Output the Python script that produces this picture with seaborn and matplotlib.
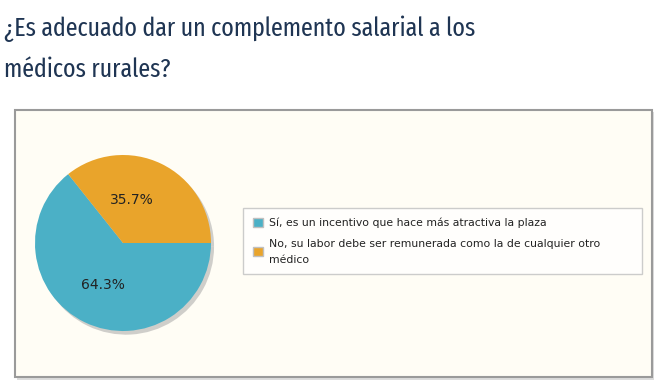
import matplotlib
matplotlib.use("Agg")
from matplotlib import pyplot as plt
from matplotlib.patches import Rectangle
import seaborn as sns

# Data
title_lines = ["¿Es adecuado dar un complemento salarial a los", "médicos rurales?"]
labels = ["Sí, es un incentivo que hace más atractiva la plaza",
          "No, su labor debe ser remunerada como la de cualquier otro\nmédico"]
shares = [64.3, 35.7]
slice_colors = ["#4bb0c6", "#e9a42b"]

sns.set_theme(style="white")
plt.rcParams["font.family"] = ["DejaVu Sans"]

W, H = 659, 382
fig = plt.figure(figsize=(W / 100, H / 100), dpi=100)
fig.patch.set_facecolor("white")

# Title, sized so that the first line spans the same width as the reference
title_font = ["Fira Sans Extra Condensed", "DejaVu Sans"]
t1 = fig.text(4 / W, 1 - 36 / H, title_lines[0], ha="left", va="baseline", fontsize=23,
              family=title_font, color="#1f3553")
renderer = fig.canvas.get_renderer()
w1 = t1.get_window_extent(renderer).width
size = 23 * 474 / w1
t1.set_fontsize(size)
fig.text(4 / W, 1 - 77 / H, title_lines[1], ha="left", va="baseline", fontsize=size,
         family=title_font, color="#1f3553")

# Panel with shadow
fig.patches.append(Rectangle((17 / W, 1 - 380 / H), 637 / W, 268 / H,
                             transform=fig.transFigure, fc="#dcdcdc", ec="none", zorder=-3))
fig.patches.append(Rectangle((15 / W, 1 - 377 / H), 637 / W, 267 / H,
                             transform=fig.transFigure, fc="#fffdf5", ec="#9a9a9a", lw=1.5, zorder=-2))

# Pie
cx, cy, r = 123, 243, 88
pad = 1.1
ax = fig.add_axes([(cx - r * pad) / W, 1 - (cy + r * pad) / H, 2 * r * pad / W, 2 * r * pad / H])
ax.patch.set_alpha(0)
start = 360 * shares[1] / sum(shares)
wedges, texts, autotexts = ax.pie(
    shares, colors=sns.color_palette(slice_colors), startangle=start, counterclock=True,
    autopct="%.1f%%", pctdistance=0.53, radius=1,
    shadow={"ox": 0.025, "oy": -0.03, "facecolor": "#a0a0a0", "alpha": 0.5},
    wedgeprops={"linewidth": 0},
    textprops={"fontsize": 10, "color": "#222222"})
autotexts[1].set_position((0.1, 0.49))
ax.set_xlim(-pad, pad)
ax.set_ylim(-pad, pad)
ax.set_aspect("equal")
ax.axis("off")

# Legend
leg = fig.legend(wedges, labels, loc="upper left",
                 bbox_to_anchor=(243 / W, 1 - 273 / H, 399 / W, 65 / H), mode="expand",
                 frameon=True, fancybox=False, fontsize=7.8, handlelength=0.95, handleheight=0.95,
                 handletextpad=0.55, borderaxespad=0, labelspacing=0.95, borderpad=0.9)
leg.get_frame().set_edgecolor("#c0c0c0")
leg.get_frame().set_facecolor("white")
leg.get_frame().set_linewidth(1)
for h in leg.legend_handles:
    h.set_edgecolor("#c0c0c0")
    h.set_linewidth(1)
for t in leg.get_texts():
    t.set_color("#222222")
    t.set_linespacing(1.75)

plt.savefig("out.png", dpi=100)
